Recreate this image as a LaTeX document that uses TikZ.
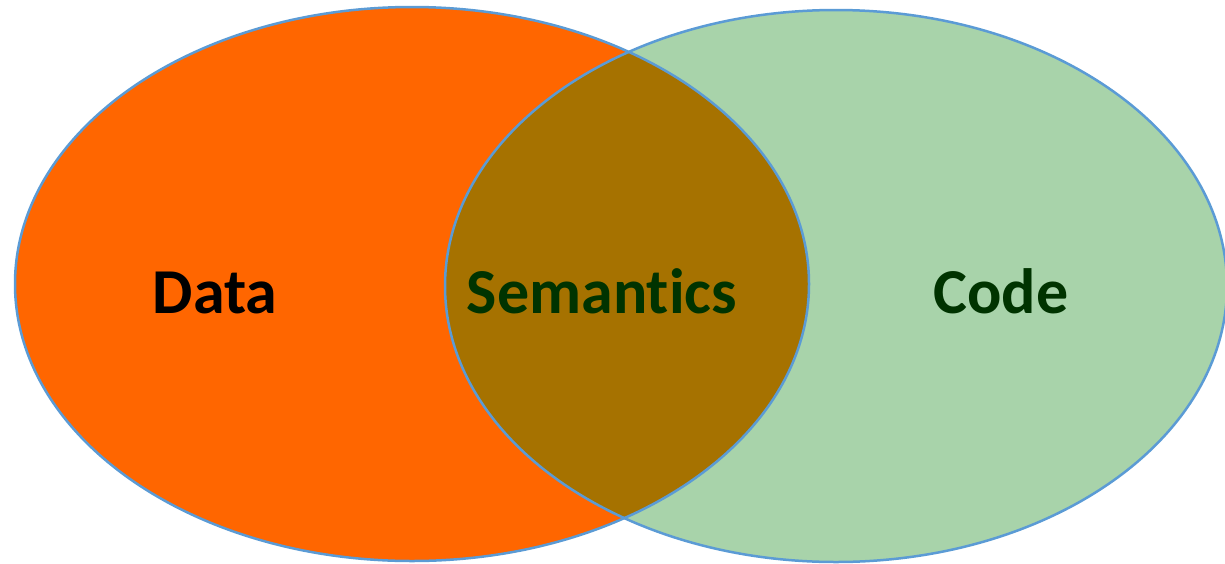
\documentclass[tikz,border=0pt]{standalone}
\usepackage{fontspec}
\setmainfont{Carlito}[RawFeature=-liga]
\definecolor{dataorange}{HTML}{FF6600}
\definecolor{codegreen}{HTML}{A8D3AA}
\definecolor{overlapbrown}{HTML}{A67200}
\definecolor{rimblue}{HTML}{5B9BD5}
\definecolor{labelgreen}{HTML}{003300}
\begin{document}
\begin{tikzpicture}[x=1pt,y=-1pt,
  rim/.style={draw=rimblue,line width=2.5pt},
  vlabel/.style={font=\fontsize{64}{72}\selectfont\bfseries,anchor=base,inner sep=0pt}]
\useasboundingbox (0,0) rectangle (1225,563);
% the two sets
\fill[dataorange] (412,284) ellipse [x radius=397,y radius=277];
\fill[codegreen] (836,286) ellipse [x radius=391,y radius=276];
% their overlap
\begin{scope}
  \clip (412,284) ellipse [x radius=397,y radius=277];
  \fill[overlapbrown] (836,286) ellipse [x radius=391,y radius=276];
\end{scope}
% outlines
\draw[rim] (412,284) ellipse [x radius=397,y radius=277];
\draw[rim] (836,286) ellipse [x radius=391,y radius=276];
% labels
\node[vlabel,text=black] (data) at (215,313) {Data};
\node[vlabel,text=labelgreen] (sem) at (602,313) {Semantics};
\node[vlabel,text=labelgreen] (code) at (1001,313) {Code};
\end{tikzpicture}
\end{document}
